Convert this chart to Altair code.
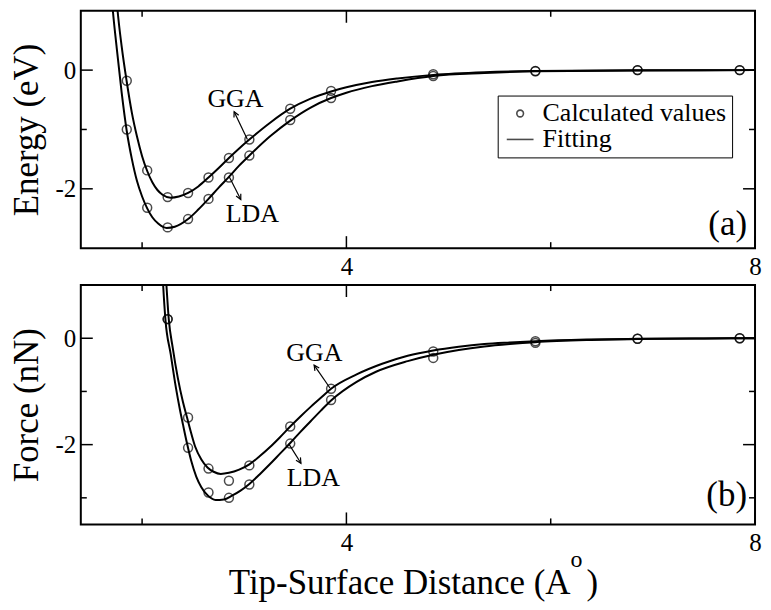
import altair as alt
import pandas as pd

# ---------------- data ----------------
# Calculated values (open circles)
E_X = [1.85, 2.05, 2.25, 2.45, 2.65, 2.85, 3.05, 3.45, 3.85, 4.85, 5.85, 6.85, 7.85]
E_GGA = [-0.18, -1.69, -2.14, -2.07, -1.81, -1.48, -1.17, -0.65, -0.35, -0.07, -0.015, 0.0, 0.0]
E_LDA = [-1.0, -2.32, -2.65, -2.51, -2.17, -1.81, -1.44, -0.84, -0.47, -0.10, -0.02, 0.0, 0.0]

F_X = [2.25, 2.45, 2.65, 2.85, 3.05, 3.45, 3.85, 4.85, 5.85, 6.85, 7.85]
F_GGA = [0.36, -1.49, -2.45, -2.68, -2.39, -1.66, -0.95, -0.25, -0.055, -0.01, 0.0]
F_LDA = [0.36, -2.06, -2.90, -3.00, -2.75, -1.98, -1.16, -0.37, -0.087, -0.01, 0.0]

# Fitted curves (solid lines)
EFIT_GGA_X = [1.745, 1.76, 1.80, 1.85, 1.90, 1.95, 2.00, 2.05, 2.10, 2.15, 2.20, 2.28, 2.36, 2.45, 2.55, 2.65,
              2.75, 2.85, 2.95, 3.05, 3.25, 3.45, 3.65, 3.85, 4.0, 4.25, 4.5, 4.85, 5.35, 5.85, 6.85, 8.0]
EFIT_GGA_Y = [1.30, 1.00, 0.40, -0.20, -0.72, -1.12, -1.45, -1.70, -1.89, -2.02, -2.10, -2.15, -2.13, -2.07, -1.96,
              -1.81, -1.65, -1.48, -1.32, -1.17, -0.89, -0.65, -0.48, -0.36, -0.29, -0.20, -0.14, -0.08, -0.035,
              -0.015, -0.003, 0.0]
EFIT_LDA_X = [1.70, 1.714, 1.75, 1.80, 1.85, 1.90, 1.95, 2.00, 2.05, 2.10, 2.16, 2.24, 2.32, 2.45, 2.55, 2.65,
              2.75, 2.85, 2.95, 3.05, 3.25, 3.45, 3.65, 3.85, 4.0, 4.25, 4.5, 4.85, 5.35, 5.85, 6.85, 8.0]
EFIT_LDA_Y = [1.30, 1.00, 0.40, -0.38, -1.03, -1.50, -1.87, -2.13, -2.33, -2.48, -2.59, -2.66, -2.64, -2.51, -2.35,
              -2.17, -1.98, -1.80, -1.61, -1.44, -1.12, -0.85, -0.63, -0.47, -0.38, -0.27, -0.19, -0.10, -0.05,
              -0.02, -0.005, 0.0]

FFIT_GGA_X = [2.225, 2.238, 2.261, 2.30, 2.35, 2.40, 2.44, 2.48, 2.52, 2.58, 2.64, 2.70, 2.77, 2.85, 2.95, 3.05,
              3.15, 3.25, 3.35, 3.45, 3.55, 3.65, 3.75, 3.85, 4.1, 4.35, 4.6, 4.85, 5.1, 5.35, 5.6, 5.85, 6.35,
              6.85, 7.5, 8.0]
FFIT_GGA_Y = [1.40, 1.00, 0.36, -0.18, -0.75, -1.20, -1.49, -1.78, -2.04, -2.28, -2.43, -2.51, -2.55, -2.53, -2.47,
              -2.37, -2.22, -2.05, -1.86, -1.66, -1.47, -1.29, -1.12, -0.95, -0.68, -0.48, -0.33, -0.23, -0.16,
              -0.11, -0.08, -0.055, -0.025, -0.01, -0.003, 0.0]
FFIT_LDA_X = [2.195, 2.206, 2.228, 2.28, 2.33, 2.37, 2.40, 2.44, 2.48, 2.53, 2.58, 2.64, 2.72, 2.80, 2.88, 2.96,
              3.05, 3.15, 3.25, 3.35, 3.45, 3.55, 3.65, 3.75, 3.85, 4.1, 4.29, 4.6, 4.85, 5.1, 5.35, 5.6, 5.85,
              6.35, 6.85, 7.5, 8.0]
FFIT_LDA_Y = [1.40, 1.00, 0.36, -0.30, -0.92, -1.34, -1.62, -1.98, -2.30, -2.60, -2.80, -2.95, -3.04, -3.03, -2.96,
              -2.87, -2.74, -2.56, -2.37, -2.17, -1.97, -1.76, -1.56, -1.36, -1.17, -0.82, -0.63, -0.43, -0.31,
              -0.22, -0.155, -0.11, -0.075, -0.035, -0.015, -0.004, 0.0]

# Axis tick values
X_LABELS = [4, 8]
X_MINOR = [2, 6]
Y_LABELS = [0, -2]
Y_MINOR_TOP = [-1]
Y_MINOR_BOT = [-1, -3]

LEGEND_LABELS = ["Calculated values", "Fitting"]

# Annotations (label text positions, arrows tail -> head)
ANN_TOP_TEXT = ["GGA", "LDA"]
ANN_TOP_X = [2.914, 3.079]
ANN_TOP_Y = [-0.613, -2.566]
ARR_TOP_X = [3.031, 2.853]
ARR_TOP_Y = [-1.168, -1.798]
ARR_TOP_X2 = [2.901, 2.966]
ARR_TOP_Y2 = [-0.70, -2.181]
ARR_TOP_ANG = [335, 153.5]

ANN_BOT_TEXT = ["GGA", "LDA"]
ANN_BOT_X = [3.686, 3.676]
ANN_BOT_Y = [-0.437, -2.78]
ARR_BOT_X = [3.839, 3.435]
ARR_BOT_Y = [-0.935, -1.98]
ARR_BOT_X2 = [3.684, 3.555]
ARR_BOT_Y2 = [-0.506, -2.35]
ARR_BOT_ANG = [325.5, 148.4]

# ---------------- chart ----------------
FONT = "Liberation Serif"
W = 676
H_TOP = 238
H_BOT = 240
HEAD = "M-0.5,1L0,0L0.5,1"

XS = alt.Scale(domain=[1.4, 8], nice=False, zero=False)


def panel(pts_x, gga, lda, fit, ydomain, ytitle, height, y_minor, ann, arr, tag, legend):
    ys = alt.Scale(domain=ydomain, nice=False, zero=False)

    def xe(f="x"):
        return alt.X(f"{f}:Q", scale=XS,
                     axis=alt.Axis(values=X_LABELS, title=None, labelExpr="'' + datum.value"))

    def ye(f="y"):
        return alt.Y(f"{f}:Q", scale=ys,
                     axis=alt.Axis(values=Y_LABELS, title=ytitle, labelExpr="'' + datum.value"))

    fit_df = pd.concat([
        pd.DataFrame({"x": fit[0], "y": fit[1], "method": "GGA"}),
        pd.DataFrame({"x": fit[2], "y": fit[3], "method": "LDA"}),
    ])
    pts_df = pd.concat([
        pd.DataFrame({"x": pts_x, "y": gga, "method": "GGA"}),
        pd.DataFrame({"x": pts_x, "y": lda, "method": "LDA"}),
    ])
    pts_df["kind"] = LEGEND_LABELS[0]

    lines = alt.Chart(fit_df).mark_line(
        color="black", strokeWidth=2, interpolate="monotone", clip=True
    ).encode(x=xe(), y=ye(), detail="method:N")

    if legend:
        pts = alt.Chart(pts_df).mark_point(
            filled=False, size=80, color="black", strokeWidth=1.5
        ).encode(
            x=xe(), y=ye(),
            shape=alt.Shape("kind:N", scale=alt.Scale(domain=LEGEND_LABELS, range=["circle", "M-4,0L4,0"]),
                            legend=alt.Legend(title=None, orient="none", legendX=W - 258, legendY=85,
                                              padding=5, rowPadding=0, strokeColor="black",
                                              symbolOffset=4.5, labelOffset=9.5, labelFont=FONT,
                                              labelFontSize=26, labelColor="black", labelLimit=0,
                                              symbolSize=45, symbolStrokeWidth=1.6,
                                              symbolStrokeColor="black", fillColor="white")),
        )
    else:
        pts = alt.Chart(pts_df).mark_point(
            filled=False, size=80, color="black", strokeWidth=1.5, shape="circle"
        ).encode(x=xe(), y=ye())

    tick_style = dict(color="black", strokeWidth=1.5)
    xmaj = pd.DataFrame({"x": X_LABELS})
    xmin = pd.DataFrame({"x": X_MINOR})
    ymaj = pd.DataFrame({"y": Y_LABELS})
    ymin = pd.DataFrame({"y": y_minor})
    ticks = [
        alt.Chart(xmaj).mark_rule(**tick_style).encode(x=xe(), y=alt.value(height), y2=alt.value(height - 12)),
        alt.Chart(xmaj).mark_rule(**tick_style).encode(x=xe(), y=alt.value(0), y2=alt.value(12)),
        alt.Chart(xmin).mark_rule(**tick_style).encode(x=xe(), y=alt.value(height), y2=alt.value(height - 6)),
        alt.Chart(xmin).mark_rule(**tick_style).encode(x=xe(), y=alt.value(0), y2=alt.value(6)),
        alt.Chart(ymaj).mark_rule(**tick_style).encode(y=ye(), x=alt.value(0), x2=alt.value(12)),
        alt.Chart(ymaj).mark_rule(**tick_style).encode(y=ye(), x=alt.value(W), x2=alt.value(W - 12)),
        alt.Chart(ymin).mark_rule(**tick_style).encode(y=ye(), x=alt.value(0), x2=alt.value(6)),
        alt.Chart(ymin).mark_rule(**tick_style).encode(y=ye(), x=alt.value(W), x2=alt.value(W - 6)),
    ]

    ann_df = pd.DataFrame({"x": ann[1], "y": ann[2], "label": ann[0]})
    texts = alt.Chart(ann_df).mark_text(
        font=FONT, fontSize=26, color="black", align="center", baseline="alphabetic"
    ).encode(x=xe(), y=ye(), text="label:N")

    arr_df = pd.DataFrame({"x": arr[0], "y": arr[1], "x2": arr[2], "y2": arr[3], "ang": arr[4]})
    shafts = alt.Chart(arr_df).mark_rule(color="black", strokeWidth=1.2).encode(
        x=xe(), y=ye(), x2="x2:Q", y2="y2:Q")
    heads = alt.Chart(arr_df).mark_point(
        shape=HEAD, filled=False, size=110, color="black", strokeWidth=1.2, opacity=1
    ).encode(x=xe("x2"), y=ye("y2"), angle=alt.Angle("ang:Q", scale=None))

    one = pd.DataFrame({"k": [0]})
    tag_txt = alt.Chart(one).mark_text(
        text=tag, font=FONT, fontSize=35, color="black", align="right", baseline="alphabetic"
    ).encode(x=alt.value(W - 8), y=alt.value(height - (13 if tag == "(a)" else 18)))

    layers = [lines, pts] + ticks + [shafts, heads, texts, tag_txt]
    return alt.layer(*layers).properties(width=W, height=height)


top = panel(E_X, E_GGA, E_LDA, (EFIT_GGA_X, EFIT_GGA_Y, EFIT_LDA_X, EFIT_LDA_Y),
            [-3, 1], "Energy (eV)", H_TOP, Y_MINOR_TOP,
            (ANN_TOP_TEXT, ANN_TOP_X, ANN_TOP_Y),
            (ARR_TOP_X, ARR_TOP_Y, ARR_TOP_X2, ARR_TOP_Y2, ARR_TOP_ANG), "(a)", True)

bot = panel(F_X, F_GGA, F_LDA, (FFIT_GGA_X, FFIT_GGA_Y, FFIT_LDA_X, FFIT_LDA_Y),
            [-3.5, 1], "Force (nN)", H_BOT, Y_MINOR_BOT,
            (ANN_BOT_TEXT, ANN_BOT_X, ANN_BOT_Y),
            (ARR_BOT_X, ARR_BOT_Y, ARR_BOT_X2, ARR_BOT_Y2, ARR_BOT_ANG), "(b)", False)

one = pd.DataFrame({"k": [0]})
TB = H_BOT + 70
xt_main = alt.Chart(one).mark_text(
    text="Tip-Surface Distance (A", font=FONT, fontSize=35, color="black", align="right", baseline="alphabetic"
).encode(x=alt.value(W / 2 + 153), y=alt.value(TB))
xt_sup = alt.Chart(one).mark_text(
    text="o", font=FONT, fontSize=24, color="black", align="center", baseline="alphabetic"
).encode(x=alt.value(W / 2 + 159), y=alt.value(TB - 27))
xt_close = alt.Chart(one).mark_text(
    text=")", font=FONT, fontSize=35, color="black", align="left", baseline="alphabetic"
).encode(x=alt.value(W / 2 + 169), y=alt.value(TB))

bot = alt.layer(bot, xt_main, xt_sup, xt_close)

chart = alt.vconcat(top, bot, spacing=37).properties(
    bounds="flush",
    padding={"left": 0, "top": 0, "right": 0, "bottom": 0},
).resolve_scale(shape="independent").resolve_legend(shape="independent").configure(
    font=FONT, background="white"
).configure_view(
    stroke="black", strokeWidth=2, fill="white"
).configure_axis(
    labelFont=FONT, labelFontSize=25, labelColor="black",
    titleFont=FONT, titleFontSize=35, titleFontWeight="normal", titleColor="black",
    ticks=False, tickSize=0, domain=False, grid=False,
).configure_axisX(
    labelPadding=6, labelFlush=False
).configure_axisY(
    labelPadding=5, titlePadding=11
)

chart.save("out.html", embed_options={"renderer": "svg", "actions": False})
